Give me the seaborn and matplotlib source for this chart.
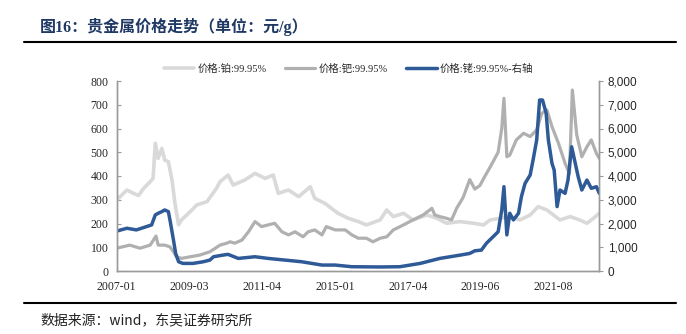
import numpy as np
import pandas as pd
import matplotlib
matplotlib.use("Agg")
import matplotlib.pyplot as plt
from matplotlib.lines import Line2D
from matplotlib.ticker import FuncFormatter
import seaborn as sns

# ---------------- data ----------------
# x = trading-day position on the category axis (100 positions per labelled tick)
tick_labels = ["2007-01", "2009-03", "2011-04", "2015-01", "2017-04", "2019-06", "2021-08"]

pt_idx = [0, 14, 23, 30, 37, 46, 50, 53, 57, 62, 66, 71, 76, 80, 85, 89, 101, 110, 124, 137,
          142, 153, 160, 176, 190, 204, 215, 222, 236, 250, 266, 272, 286, 295, 304, 318, 332, 343, 362, 371,
          380, 394, 407, 426, 440, 453, 472, 490, 504, 513, 527, 540, 554, 568, 579, 591, 600, 609, 623, 636,
          646, 655, 663]
pt_val = [299, 341, 327, 318, 348, 376, 390, 538, 474, 516, 467, 460, 383, 285, 194, 215, 250, 278, 292, 348,
          376, 404, 362, 383, 411, 390, 404, 327, 341, 313, 355, 306, 285, 264, 243, 222, 208, 194, 215, 257,
          229, 243, 215, 236, 222, 201, 208, 201, 194, 215, 222, 229, 215, 236, 271, 257, 236, 215, 229, 215,
          201, 222, 243]

pd_idx = [0, 18, 32, 46, 54, 57, 66, 73, 78, 82, 89, 101, 114, 128, 142, 151, 156, 162, 172, 181,
          190, 199, 208, 217, 227, 236, 245, 256, 263, 272, 282, 288, 300, 314, 323, 332, 343, 352, 362, 371,
          380, 394, 407, 421, 433, 437, 444, 453, 460, 467, 476, 485, 492, 499, 506, 512, 517, 524, 529, 532,
          536, 540, 549, 559, 568, 577, 584, 591, 598, 607, 616, 622, 626, 632, 639, 646, 652, 659, 663]
pd_val = [96, 109, 96, 109, 147, 109, 109, 102, 81, 60, 53, 60, 67, 81, 109, 117, 123, 117, 130, 165,
          208, 187, 194, 201, 165, 152, 165, 144, 165, 173, 152, 187, 173, 173, 152, 138, 138, 123, 138, 144,
          173, 194, 215, 236, 264, 236, 229, 222, 215, 264, 310, 385, 345, 360, 400, 432, 460, 500, 600, 727,
          481, 488, 552, 580, 566, 594, 664, 678, 608, 537, 453, 411, 762, 573, 481, 523, 552, 495, 475]

rh_idx = [0, 14, 27, 41, 48, 53, 57, 62, 66, 71, 74, 78, 81, 85, 91, 105, 119, 128, 133, 146,
          153, 167, 190, 208, 231, 254, 282, 300, 323, 362, 389, 417, 444, 472, 485, 492, 501, 508, 517, 524,
          529, 532, 536, 540, 545, 552, 556, 561, 568, 572, 577, 581, 585, 590, 593, 598, 601, 605, 609, 616,
          620, 625, 630, 634, 639, 646, 652, 659, 663]
rh_val = [1680, 1800, 1730, 1870, 1940, 2360, 2430, 2500, 2570, 2500, 2010, 1300, 740, 390, 320, 320, 390, 460, 600, 670,
          700, 530, 600, 530, 460, 390, 250, 250, 180, 170, 180, 320, 530, 670, 740, 850, 880, 1170, 1440, 1650,
          2570, 3550, 1520, 2430, 2150, 2430, 3130, 3690, 4040, 4670, 5520, 7200, 7200, 6640, 5520, 4530, 4250, 2710, 3410, 3270,
          3830, 5230, 4530, 3970, 3410, 3830, 3480, 3550, 3270]

legend_labels = ["价格:铂:99.95%", "价格:钯:99.95%", "价格:铑:99.95%-右轴"]
title_text = "图16：贵金属价格走势（单位：元/g）"
source_text = "数据来源：wind，东吴证券研究所"

# ---------------- styling ----------------
sns.set_style("white")
plt.rcParams["font.family"] = ["Liberation Serif", "Noto Sans CJK SC", "DejaVu Sans"]
plt.rcParams["axes.unicode_minus"] = False

W, H = 686, 334
fig = plt.figure(figsize=(W / 100, H / 100), dpi=100)
ax = fig.add_axes([116.7 / W, 1 - 271 / H, (599.3 - 116.7) / W, 190 / H])
ax2 = ax.twinx()

c_pt, c_pd, c_rh = "#D9D9D9", "#B0B0B0", "#2E5A97"

df_pt = pd.DataFrame({"x": pt_idx, "y": pt_val})
df_pd = pd.DataFrame({"x": pd_idx, "y": pd_val})
df_rh = pd.DataFrame({"x": rh_idx, "y": rh_val})

sns.lineplot(data=df_pt, x="x", y="y", ax=ax, color=c_pt, lw=2.6, label=legend_labels[0], legend=False)
sns.lineplot(data=df_pd, x="x", y="y", ax=ax, color=c_pd, lw=2.3, label=legend_labels[1], legend=False)
sns.lineplot(data=df_rh, x="x", y="y", ax=ax2, color=c_rh, lw=2.5, label=legend_labels[2], legend=False)

ax.set_xlim(0, 663)
ax.set_ylim(0, 800)
ax2.set_ylim(0, 8000)
ax.set_xticks(np.arange(len(tick_labels)) * 100)
ax.set_xticklabels(tick_labels)
ax.set_yticks(np.arange(0, 801, 100))
ax2.set_yticks(np.arange(0, 8001, 1000))
ax2.yaxis.set_major_formatter(FuncFormatter(lambda v, p: f"{int(v):,}"))
for a in (ax, ax2):
    a.set_xlabel("")
    a.set_ylabel("")

spine_c = "#9A9A9A"
for a in (ax, ax2):
    a.spines["top"].set_visible(False)
    for s in ("left", "right", "bottom"):
        a.spines[s].set_color(spine_c)
        a.spines[s].set_linewidth(1.0)
ax.tick_params(axis="x", direction="out", length=3, color=spine_c, labelsize=8.5, pad=4)
ax.tick_params(axis="y", direction="in", length=3, color=spine_c, labelsize=8.5, pad=6, left=True)
ax2.tick_params(axis="y", direction="out", length=3, color=spine_c, labelsize=8.5, pad=3, right=True)
for lab in ax2.get_yticklabels():
    lab.set_family(["Liberation Sans", "DejaVu Sans"])

# legend
handles = [Line2D([], [], color=c_pt, lw=2.6), Line2D([], [], color=c_pd, lw=2.3), Line2D([], [], color=c_rh, lw=2.5)]
fig.legend(handles, legend_labels, loc="center", bbox_to_anchor=(348.5 / W, 1 - 69 / H), ncol=3,
           frameon=False, fontsize=7.5, handlelength=2.9, handletextpad=0.3, columnspacing=1.8,
           prop={"family": ["Liberation Serif", "Noto Sans CJK SC"], "size": 7.5})

# title, rules and source
fig.text(40 / W, 1 - 27 / H, title_text, fontsize=11.5, fontweight="bold", color="#1F3864",
         va="center", ha="left", family=["Liberation Serif", "Noto Sans CJK SC"])
fig.add_artist(Line2D([24 / W, 676 / W], [1 - 42 / H, 1 - 42 / H], color="black", lw=1.5))
fig.add_artist(Line2D([24 / W, 676 / W], [1 - 303 / H, 1 - 303 / H], color="black", lw=1.5))
fig.text(40 / W, 1 - 320 / H, source_text, fontsize=10, color="#222222", va="center", ha="left",
         family=["Noto Sans CJK SC", "DejaVu Sans"])

fig.savefig("out.png", dpi=100)
